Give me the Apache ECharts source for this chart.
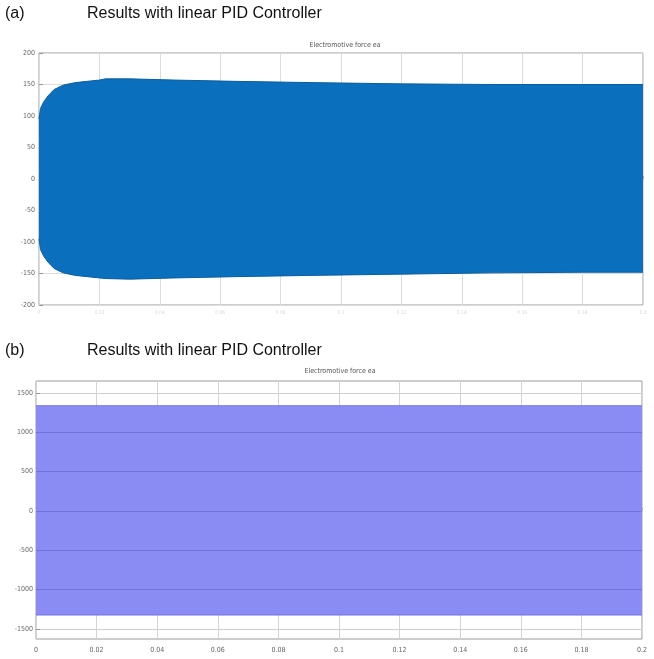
<!DOCTYPE html>
<html>
<head>
<meta charset="utf-8">
<script src="https://cdn.jsdelivr.net/npm/echarts@6/dist/echarts.min.js"></script>
<style>
html,body{margin:0;padding:0;background:#fff;}
#c{width:654px;height:659px;}
</style>
</head>
<body>
<div id="c"></div>
<script>
// ---- Data ----
const panelLabels = ['(a)', '(b)'];
const panelTitles = ['Results with linear PID Controller', 'Results with linear PID Controller'];
const subTitles = ['Electromotive force ea', 'Electromotive force ea'];

// Panel (a): envelope of the electromotive force (time in s)
const timeA  = [0, 0.0005, 0.0015, 0.003, 0.005, 0.008, 0.012, 0.02, 0.022, 0.03, 0.045, 0.065, 0.09, 0.12, 0.15, 0.18, 0.2];
const upperA = [95, 112, 122, 132, 142, 149, 153, 157, 159, 159, 157, 155, 153, 151, 150, 150, 150];
const lowerA = [-95, -112, -122, -132, -142, -149, -153, -157, -158, -159, -157, -155, -153, -151, -149, -148, -148];

// Panel (b): envelope of the electromotive force (constant amplitude)
const timeB  = [0, 0.05, 0.1, 0.15, 0.2];
const upperB = [1335, 1335, 1335, 1335, 1335];
const lowerB = [-1325, -1325, -1325, -1325, -1325];

// Tick labels
const xTicks = [0, 0.02, 0.04, 0.06, 0.08, 0.1, 0.12, 0.14, 0.16, 0.18, 0.2];
const yTicksA = [-200, -150, -100, -50, 0, 50, 100, 150, 200];
const yTicksB = [-1500, -1000, -500, 0, 500, 1000, 1500];
const innerGridB = [-1000, -500, 0, 500, 1000];

// ---- Build ----
const pair = (t, v) => t.map((x, i) => [x, v[i]]);
const FONT = 'Liberation Sans, Arial, sans-serif';
const tickFont = 'Liberation Sans Narrow, DejaVu Sans Condensed, Liberation Sans, sans-serif';

const chart = echarts.init(document.getElementById('c'), null, {renderer: 'canvas'});

const blueA = '#0a70bd';
const blueB = '#8b8bf4';

const titleStyle = {fontFamily: FONT, fontSize: 16, fontWeight: 'normal', color: '#111'};
const subStyle = {fontFamily: tickFont, fontSize: 7, fontWeight: 'normal', color: '#555'};

// each half of a band is filled towards the centre, overlapping slightly to avoid a seam
function half(xi, yi, data, edge, fill, origin, extra) {
  return Object.assign({type: 'line', xAxisIndex: xi, yAxisIndex: yi, data: data, symbol: 'none',
    lineStyle: {color: edge, width: 1}, areaStyle: {color: fill, opacity: 1, origin: origin}}, extra || {});
}

const option = {
  animation: false,
  backgroundColor: '#fff',
  title: [
    {text: panelLabels[0], left: 5, top: 6, padding: 0, textStyle: titleStyle},
    {text: panelTitles[0], left: 87, top: 6, padding: 0, textStyle: titleStyle},
    {text: subTitles[0], left: 345, textAlign: 'center', top: 42, padding: 0, textStyle: subStyle},
    {text: panelLabels[1], left: 5, top: 343, padding: 0, textStyle: titleStyle},
    {text: panelTitles[1], left: 87, top: 343, padding: 0, textStyle: titleStyle},
    {text: subTitles[1], left: 340, textAlign: 'center', top: 368, padding: 0, textStyle: subStyle}
  ],
  grid: [
    {left: 39, top: 53, width: 604, height: 252, show: true, borderColor: '#9a9a9a', borderWidth: 1, backgroundColor: '#fff'},
    {left: 36, top: 381, width: 606, height: 258, show: true, borderColor: '#9a9a9a', borderWidth: 1, backgroundColor: '#fff'}
  ],
  xAxis: [
    {type: 'value', gridIndex: 0, min: 0, max: 0.2, interval: 0.02,
     axisLine: {show: false}, axisTick: {show: true, inside: true, length: 3, lineStyle: {color: '#aaa'}},
     axisLabel: {show: true, fontSize: 5, color: '#d8d8d8', margin: 5, fontFamily: tickFont,
       formatter: v => String(+v.toFixed(2))},
     splitLine: {show: true, lineStyle: {color: '#dcdcdc', width: 1}}},
    {type: 'value', gridIndex: 1, min: 0, max: 0.2, interval: 0.02,
     axisLine: {show: false}, axisTick: {show: true, inside: true, length: 3, lineStyle: {color: '#aaa'}},
     axisLabel: {show: true, fontSize: 7, color: '#666', margin: 8, fontFamily: tickFont,
       formatter: v => String(+v.toFixed(2))},
     splitLine: {show: true, lineStyle: {color: '#d4d4d4', width: 1}}}
  ],
  yAxis: [
    {type: 'value', gridIndex: 0, min: -200, max: 200, interval: 50,
     axisLine: {show: false}, axisTick: {show: true, inside: true, length: 4, lineStyle: {color: '#999'}},
     axisLabel: {fontSize: 7, color: '#666', margin: 4, fontFamily: tickFont, formatter: v => String(v)},
     splitLine: {show: true, lineStyle: {color: '#dcdcdc', width: 1}}},
    {type: 'value', gridIndex: 1, min: -1630, max: 1650,
     axisLine: {show: false},
     axisTick: {show: true, inside: true, length: 4, customValues: yTicksB, lineStyle: {color: '#999'}},
     axisLabel: {fontSize: 7, color: '#666', margin: 3, fontFamily: tickFont, customValues: yTicksB,
       formatter: v => String(v)},
     splitLine: {show: true, lineStyle: {color: '#cfcfcf', width: 1}}}
  ],
  series: [
    half(0, 0, pair(timeA, upperA), '#0b5d9e', blueA, -6),
    half(0, 0, pair(timeA, lowerA), '#0b5d9e', blueA, 6),
    half(1, 1, pair(timeB, upperB), '#7272ea', blueB, -40),
    half(1, 1, pair(timeB, lowerB), '#7272ea', blueB, 40, {
      markLine: {silent: true, symbol: 'none', label: {show: false},
        lineStyle: {color: '#6a6ad8', type: 'solid', width: 1, opacity: 0.8},
        data: innerGridB.map(v => ({yAxis: v}))}
    })
  ]
};
chart.setOption(option);
</script>
</body>
</html>
